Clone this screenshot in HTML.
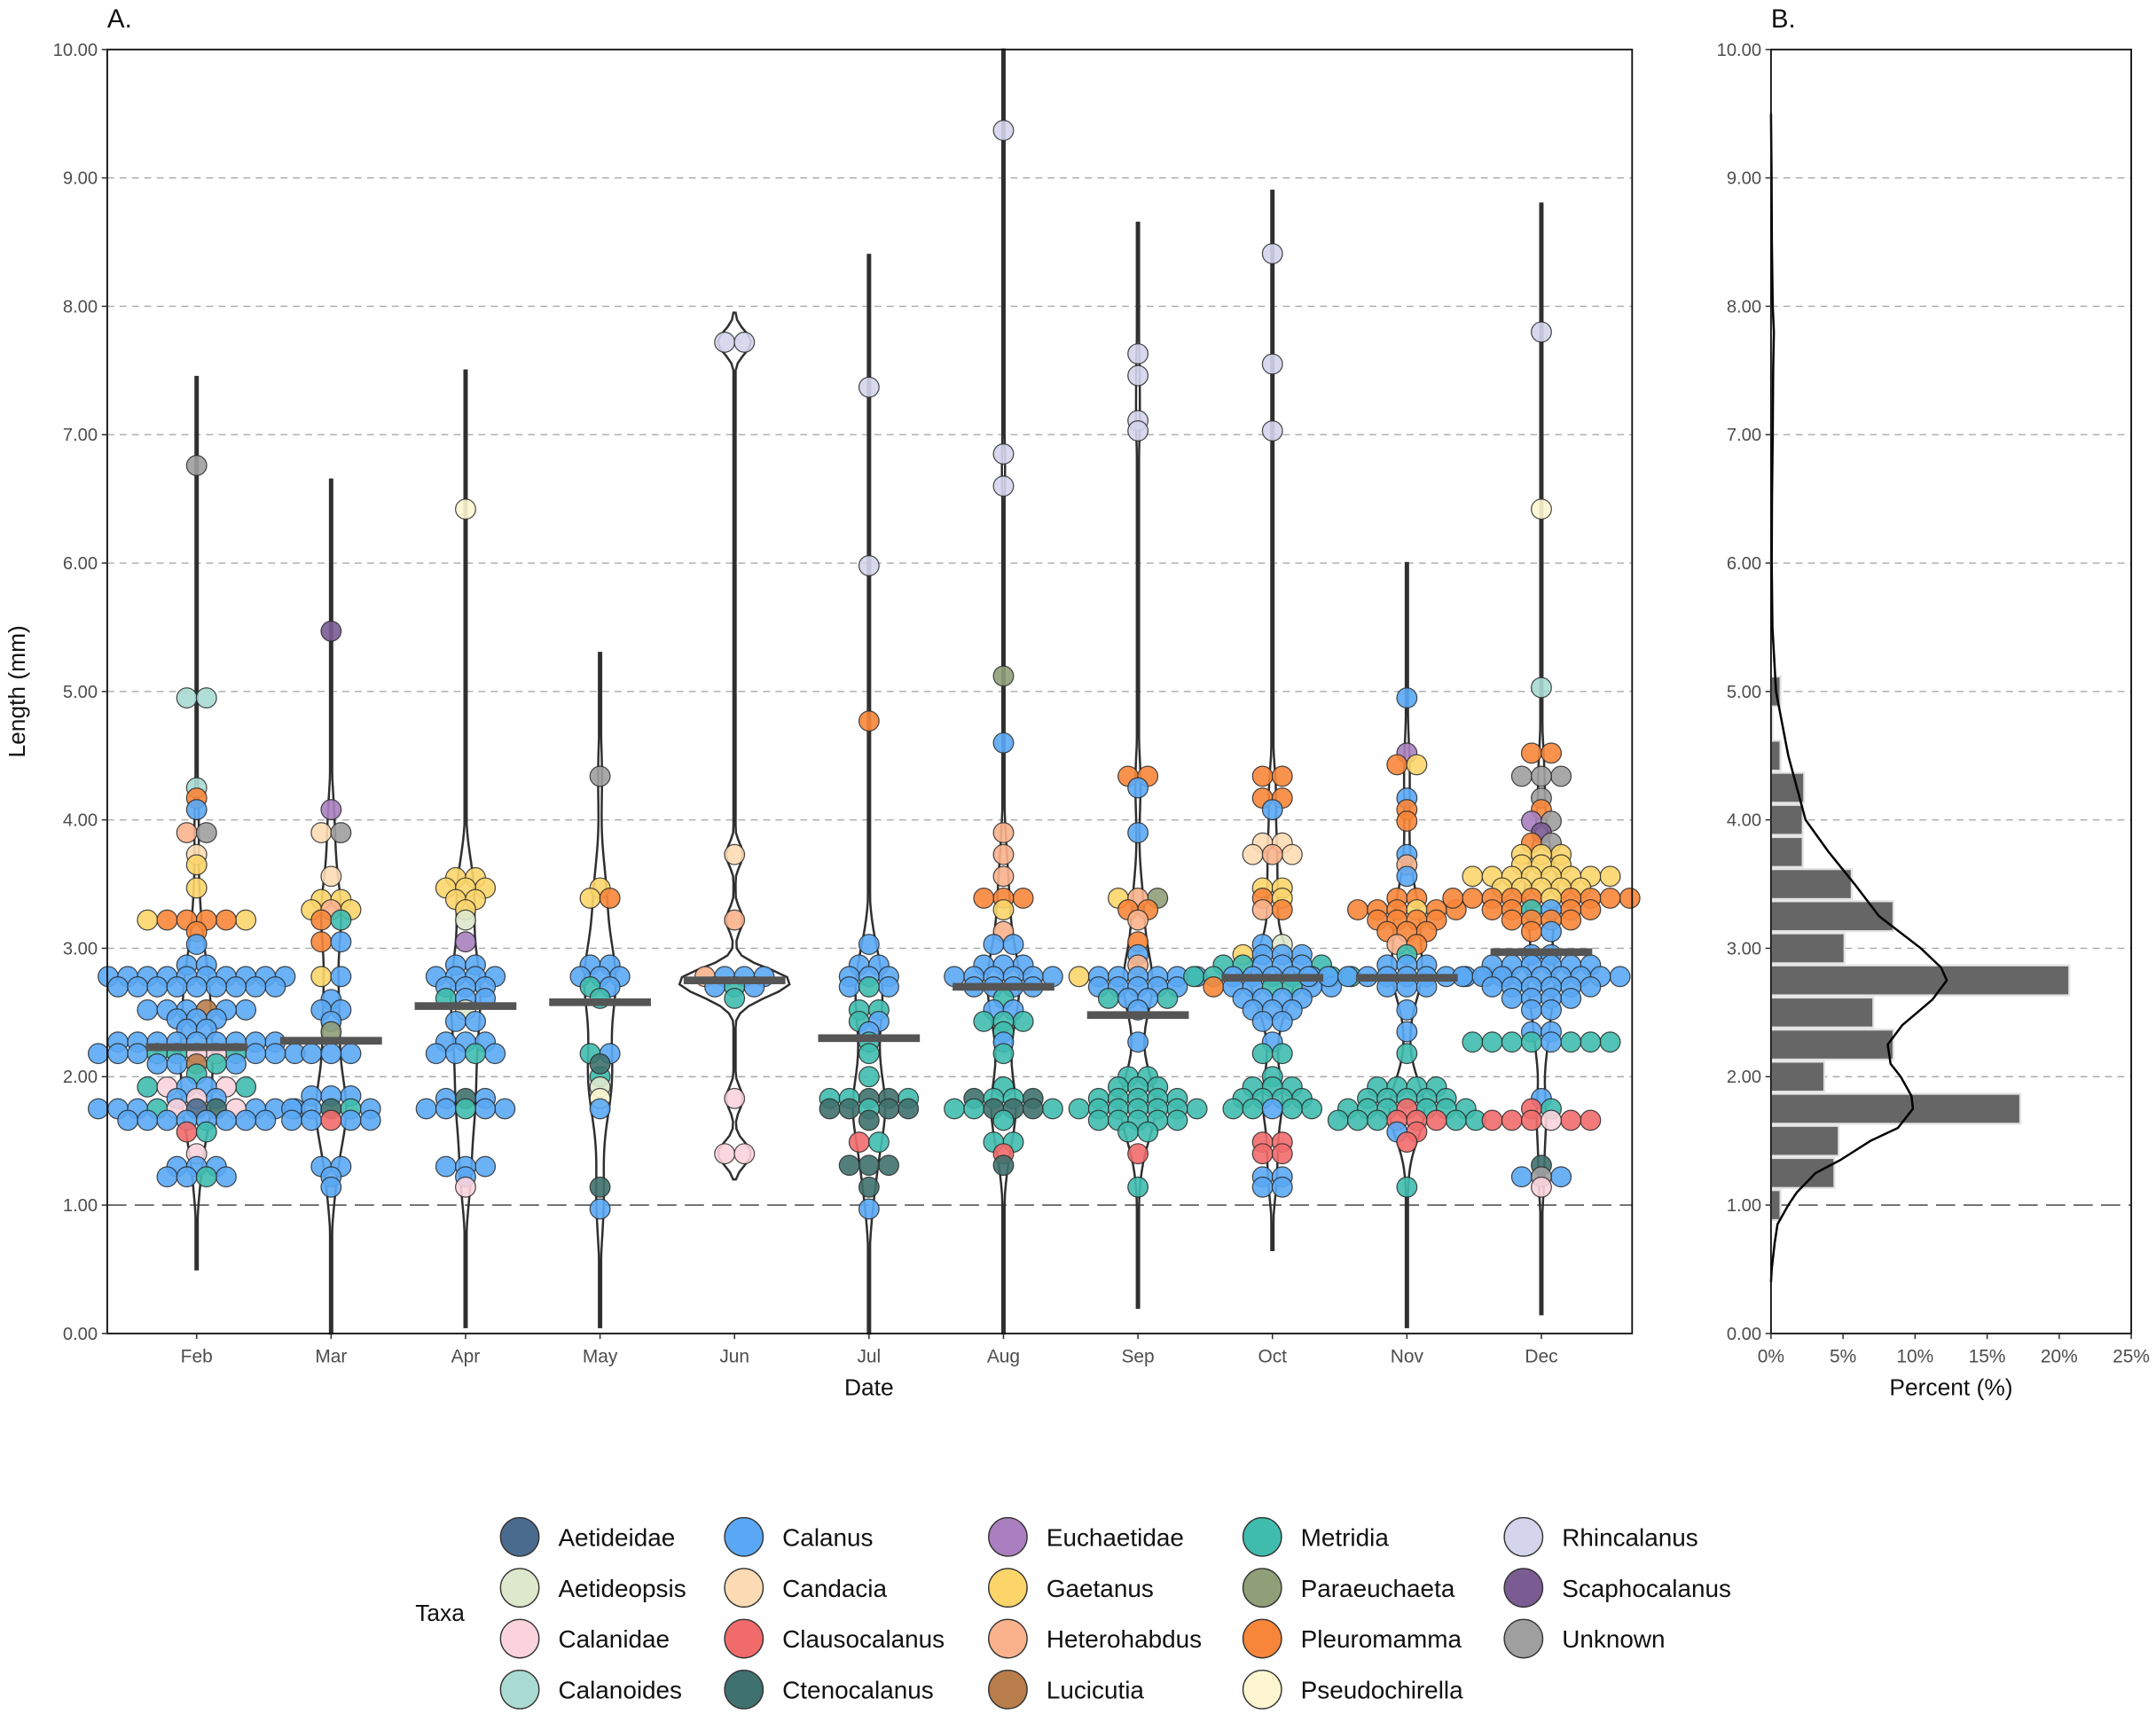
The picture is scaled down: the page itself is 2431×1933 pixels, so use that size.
<!DOCTYPE html>
<html><head><meta charset="utf-8">
<style>
html,body{margin:0;padding:0;background:#fff;}
svg{display:block;}
text{font-family:"Liberation Sans",Arial,sans-serif;}
</style></head>
<body>
<svg id="chart" xmlns="http://www.w3.org/2000/svg" width="2431" height="1933" viewBox="0 0 1568 1246.8">
  <rect x="0" y="0" width="1568" height="1246.8" fill="#fff"/>
  <g id="gridA"></g>
  <g id="gridB"></g>
  <g id="violins"></g>
  <g id="points"></g>
  <g id="medians"></g>
  <g id="bars"></g>
  <g id="curve"></g>
  <g id="axes"></g>
  <g id="legend"></g>
</svg>
<script>
// ---------- data ----------
const months = ['Feb','Mar','Apr','May','Jun','Jul','Aug','Sep','Oct','Nov','Dec'];
const yTicks = [0,1,2,3,4,5,6,7,8,9,10];
const pctTicks = [0,5,10,15,20,25];
const taxa = ['Aetideidae','Aetideopsis','Calanidae','Calanoides','Calanus','Candacia','Clausocalanus','Ctenocalanus','Euchaetidae','Gaetanus','Heterohabdus','Lucicutia','Metridia','Paraeuchaeta','Pleuromamma','Pseudochirella','Rhincalanus','Scaphocalanus','Unknown'];
const taxaColors = ['#4a6b8e','#dde8cc','#fbd3dc','#a9dbd3','#5aa8f5','#fddcb5','#f26b6b','#3f716e','#a97fbf','#fcd56a','#f9b28c','#b87d4b','#3fbcae','#8f9f78','#f8863a','#fdf6d0','#d4d4ec','#7a5c92','#9f9f9f'];
// [length, taxon, count]
const febPts = [[6.76,'Unknown',1],[4.95,'Calanoides',2],[4.25,'Calanoides',1],[4.17,'Pleuromamma',1],[4.08,'Calanus',1],[3.9,'Heterohabdus',1],[3.9,'Unknown',1],[3.73,'Candacia',1],[3.65,'Gaetanus',1],[3.47,'Gaetanus',1],[3.22,'Gaetanus',2],[3.22,'Pleuromamma',4],[3.13,'Pleuromamma',1],[3.03,'Calanus',1],[2.87,'Calanus',2],[2.78,'Calanus',10],[2.70,'Calanus',9],[2.52,'Calanus',5],[2.52,'Lucicutia',1],[2.45,'Calanus',3],[2.37,'Calanus',2],[2.27,'Calanus',9],[2.18,'Calanus',6],[2.18,'Metridia',3],[2.18,'Calanidae',2],[2.10,'Calanus',3],[2.10,'Metridia',1],[2.10,'Lucicutia',1],[2.02,'Metridia',1],[1.92,'Metridia',2],[1.92,'Calanidae',2],[1.92,'Calanus',2],[1.83,'Calanus',2],[1.83,'Calanidae',1],[1.75,'Calanus',6],[1.75,'Metridia',1],[1.75,'Calanidae',2],[1.75,'Ctenocalanus',1],[1.75,'Aetideidae',1],[1.66,'Calanus',8],[1.57,'Clausocalanus',1],[1.57,'Metridia',1],[1.40,'Calanidae',1],[1.30,'Calanus',3],[1.22,'Calanus',3],[1.22,'Metridia',1]];
const marPts = [[5.47,'Scaphocalanus',1],[4.08,'Euchaetidae',1],[3.9,'Candacia',1],[3.9,'Unknown',1],[3.56,'Candacia',1],[3.38,'Gaetanus',2],[3.30,'Gaetanus',2],[3.30,'Heterohabdus',1],[3.22,'Pleuromamma',1],[3.22,'Metridia',1],[3.05,'Pleuromamma',1],[3.05,'Calanus',1],[2.78,'Gaetanus',1],[2.78,'Calanus',1],[2.60,'Calanus',1],[2.52,'Calanus',2],[2.43,'Calanus',1],[2.35,'Paraeuchaeta',1],[2.18,'Calanus',3],[1.85,'Calanus',3],[1.75,'Calanus',3],[1.75,'Metridia',1],[1.75,'Ctenocalanus',1],[1.66,'Calanus',4],[1.66,'Clausocalanus',1],[1.30,'Calanus',2],[1.22,'Calanus',1],[1.14,'Calanus',1]];
const aprPts = [[6.42,'Pseudochirella',1],[3.55,'Gaetanus',2],[3.47,'Gaetanus',3],[3.38,'Gaetanus',2],[3.30,'Gaetanus',1],[3.22,'Aetideopsis',1],[3.05,'Euchaetidae',1],[2.87,'Calanus',2],[2.78,'Calanus',4],[2.70,'Calanus',3],[2.61,'Metridia',1],[2.61,'Calanus',2],[2.52,'Aetideopsis',1],[2.43,'Calanus',2],[2.27,'Calanus',3],[2.18,'Calanus',3],[2.18,'Metridia',1],[1.83,'Calanus',2],[1.83,'Ctenocalanus',1],[1.75,'Calanus',4],[1.75,'Metridia',1],[1.30,'Calanus',3],[1.22,'Calanus',1],[1.14,'Calanidae',1]];
const mayPts = [[4.34,'Unknown',1],[3.47,'Gaetanus',1],[3.39,'Gaetanus',1],[3.39,'Pleuromamma',1],[2.87,'Calanus',2],[2.78,'Calanus',3],[2.70,'Metridia',1],[2.70,'Calanus',1],[2.61,'Metridia',1],[2.18,'Metridia',1],[2.18,'Calanus',1],[2.10,'Ctenocalanus',1],[2.0,'Metridia',1],[1.92,'Aetideopsis',1],[1.83,'Pseudochirella',1],[1.75,'Calanus',1],[1.14,'Ctenocalanus',1],[0.97,'Calanus',1]];
const junPts = [[7.72,'Rhincalanus',2],[3.73,'Candacia',1],[3.22,'Heterohabdus',1],[2.78,'Heterohabdus',1],[2.78,'Calanus',3],[2.70,'Calanus',2],[2.70,'Metridia',1],[2.61,'Metridia',1],[1.83,'Calanidae',1],[1.40,'Calanidae',2]];
const julPts = [[7.37,'Rhincalanus',1],[5.98,'Rhincalanus',1],[4.77,'Pleuromamma',1],[3.03,'Calanus',1],[2.87,'Calanus',2],[2.78,'Calanus',3],[2.70,'Calanus',2],[2.70,'Metridia',1],[2.52,'Metridia',2],[2.43,'Metridia',1],[2.43,'Calanus',1],[2.35,'Calanus',1],[2.27,'Metridia',1],[2.18,'Metridia',1],[2.0,'Metridia',1],[1.83,'Metridia',3],[1.83,'Ctenocalanus',2],[1.75,'Ctenocalanus',4],[1.75,'Metridia',1],[1.66,'Ctenocalanus',1],[1.49,'Clausocalanus',1],[1.49,'Metridia',1],[1.31,'Ctenocalanus',3],[1.14,'Ctenocalanus',1],[0.97,'Calanus',1]];
const augPts = [[9.37,'Rhincalanus',1],[6.85,'Rhincalanus',1],[6.60,'Rhincalanus',1],[5.12,'Paraeuchaeta',1],[4.60,'Calanus',1],[3.90,'Heterohabdus',1],[3.73,'Heterohabdus',1],[3.56,'Heterohabdus',1],[3.39,'Pleuromamma',3],[3.30,'Gaetanus',1],[3.13,'Heterohabdus',1],[3.03,'Calanus',2],[2.87,'Calanus',3],[2.78,'Calanus',6],[2.70,'Calanus',4],[2.61,'Metridia',1],[2.52,'Calanus',2],[2.43,'Metridia',3],[2.35,'Metridia',1],[2.27,'Calanus',1],[2.18,'Metridia',1],[1.92,'Metridia',1],[1.83,'Ctenocalanus',2],[1.83,'Metridia',2],[1.75,'Metridia',3],[1.75,'Ctenocalanus',3],[1.66,'Metridia',1],[1.49,'Metridia',2],[1.40,'Clausocalanus',1],[1.31,'Ctenocalanus',1]];
const sepPts = [[7.63,'Rhincalanus',1],[7.46,'Rhincalanus',1],[7.11,'Rhincalanus',1],[7.03,'Rhincalanus',1],[4.34,'Pleuromamma',2],[4.25,'Calanus',1],[3.90,'Calanus',1],[3.39,'Gaetanus',1],[3.39,'Paraeuchaeta',1],[3.39,'Heterohabdus',1],[3.30,'Pleuromamma',2],[3.22,'Heterohabdus',1],[3.05,'Pleuromamma',1],[2.95,'Calanus',1],[2.87,'Heterohabdus',1],[2.78,'Gaetanus',1],[2.78,'Calanus',6],[2.70,'Calanus',5],[2.61,'Metridia',2],[2.61,'Calanus',2],[2.52,'Calanus',1],[2.27,'Calanus',1],[2.0,'Metridia',2],[1.92,'Metridia',3],[1.83,'Metridia',5],[1.75,'Metridia',7],[1.66,'Metridia',5],[1.57,'Metridia',2],[1.40,'Clausocalanus',1],[1.14,'Metridia',1]];
const octPts = [[8.41,'Rhincalanus',1],[7.55,'Rhincalanus',1],[7.03,'Rhincalanus',1],[4.34,'Pleuromamma',2],[4.17,'Pleuromamma',2],[4.08,'Calanus',1],[3.82,'Candacia',2],[3.73,'Candacia',2],[3.73,'Heterohabdus',1],[3.47,'Gaetanus',2],[3.39,'Pleuromamma',1],[3.39,'Gaetanus',1],[3.30,'Heterohabdus',1],[3.30,'Pleuromamma',1],[3.03,'Calanus',1],[3.03,'Aetideopsis',1],[2.95,'Gaetanus',1],[2.95,'Calanus',3],[2.87,'Metridia',3],[2.87,'Calanus',3],[2.78,'Metridia',4],[2.78,'Calanus',5],[2.70,'Pleuromamma',1],[2.70,'Calanus',4],[2.70,'Metridia',2],[2.61,'Calanus',4],[2.52,'Calanus',3],[2.43,'Calanus',2],[2.27,'Calanus',1],[2.18,'Metridia',2],[2.0,'Metridia',1],[1.92,'Metridia',3],[1.83,'Metridia',4],[1.75,'Metridia',4],[1.75,'Calanus',1],[1.49,'Clausocalanus',2],[1.40,'Clausocalanus',2],[1.22,'Calanus',2],[1.14,'Calanus',2]];
const novPts = [[4.95,'Calanus',1],[4.52,'Euchaetidae',1],[4.43,'Pleuromamma',1],[4.43,'Gaetanus',1],[4.17,'Calanus',1],[4.08,'Pleuromamma',1],[3.99,'Pleuromamma',1],[3.73,'Calanus',1],[3.65,'Heterohabdus',1],[3.56,'Calanus',1],[3.39,'Pleuromamma',2],[3.30,'Pleuromamma',5],[3.30,'Gaetanus',1],[3.22,'Pleuromamma',4],[3.13,'Pleuromamma',3],[3.03,'Heterohabdus',1],[3.03,'Pleuromamma',1],[2.95,'Metridia',1],[2.87,'Calanus',3],[2.78,'Calanus',11],[2.70,'Calanus',3],[2.52,'Calanus',1],[2.35,'Calanus',1],[2.18,'Metridia',1],[1.92,'Metridia',4],[1.83,'Metridia',5],[1.75,'Metridia',6],[1.75,'Clausocalanus',1],[1.66,'Metridia',5],[1.66,'Clausocalanus',3],[1.57,'Calanus',1],[1.57,'Clausocalanus',1],[1.49,'Clausocalanus',1],[1.14,'Metridia',1]];
const decPts = [[7.80,'Rhincalanus',1],[6.42,'Pseudochirella',1],[5.03,'Calanoides',1],[4.52,'Pleuromamma',2],[4.34,'Unknown',3],[4.17,'Unknown',1],[4.08,'Pleuromamma',1],[3.99,'Euchaetidae',1],[3.99,'Unknown',1],[3.90,'Scaphocalanus',1],[3.82,'Pleuromamma',1],[3.82,'Unknown',1],[3.73,'Gaetanus',3],[3.65,'Gaetanus',3],[3.56,'Gaetanus',8],[3.47,'Gaetanus',5],[3.39,'Pleuromamma',9],[3.39,'Gaetanus',1],[3.30,'Pleuromamma',4],[3.30,'Metridia',1],[3.30,'Calanus',1],[3.22,'Pleuromamma',4],[3.13,'Pleuromamma',1],[3.13,'Calanus',1],[2.95,'Calanus',2],[2.87,'Calanus',6],[2.78,'Calanus',9],[2.70,'Calanus',6],[2.61,'Calanus',4],[2.52,'Calanus',2],[2.35,'Calanus',2],[2.27,'Metridia',7],[2.27,'Calanus',1],[1.83,'Calanus',1],[1.75,'Clausocalanus',1],[1.75,'Metridia',1],[1.66,'Clausocalanus',5],[1.66,'Calanidae',1],[1.31,'Ctenocalanus',1],[1.22,'Calanus',2],[1.22,'Unknown',1],[1.14,'Calanidae',1]];
const monthPoints = [febPts,marPts,aprPts,mayPts,junPts,julPts,augPts,sepPts,octPts,novPts,decPts];
const medians = [2.23,2.28,2.55,2.58,2.75,2.30,2.70,2.48,2.77,2.77,2.97];
const violinMin = [0.5,0.0,0.05,0.05,1.2,0.0,0.0,0.2,0.65,0.05,0.15];
const violinMax = [7.45,6.65,7.5,5.3,7.95,8.4,10.0,8.65,8.9,6.0,8.8];
const violinBw = [0.23,0.25,0.25,0.28,0.09,0.25,0.23,0.23,0.18,0.2,0.2];
const binCenters = [1.0,1.25,1.5,1.75,2.0,2.25,2.5,2.75,3.0,3.25,3.5,3.75,4.0,4.25,4.5,4.75,5.0];
const binPercents = [0.66,4.4,4.7,17.3,3.7,8.5,7.1,20.7,5.1,8.5,5.6,2.2,2.2,2.3,0.66,0.1,0.66];
const densityY = [0.4,0.5,0.7,0.85,1.0,1.1,1.25,1.35,1.5,1.6,1.75,1.85,2.0,2.1,2.25,2.4,2.6,2.75,2.85,3.0,3.25,3.5,3.75,4.0,4.25,4.5,5.0,5.5,6.0,6.5,7.0,7.5,7.8,8.0,8.5,9.0,9.5];
const densityPct = [0,0.05,0.25,0.45,1.2,1.8,3.1,4.8,6.9,8.8,9.85,9.75,9.0,8.3,8.1,9.1,11.2,12.2,11.8,10.4,7.5,5.8,4.0,2.4,1.8,1.2,0.35,0.1,0.05,0.07,0.12,0.15,0.2,0.12,0.06,0.04,0.0];

// ---------- scales ----------
const NS='http://www.w3.org/2000/svg';
const A = {left:78,right:1187,top:36,bottom:970};
const B = {left:1288,right:1550,top:36,bottom:970};
const yScale = v => A.bottom - v*(A.bottom-A.top)/10;
const xMonth = i => 143 + i*97.8;
const xPct = p => B.left + p*(B.right-B.left)/25;
function mk(tag, attrs, parent){const e=document.createElementNS(NS,tag);for(const k in attrs)e.setAttribute(k,attrs[k]);parent.appendChild(e);return e;}
const colorOf = t => taxaColors[taxa.indexOf(t)];

// ---------- gridlines ----------
const gA=document.getElementById('gridA'), gB=document.getElementById('gridB');
yTicks.forEach(v=>{
  if(v===0||v===10) return;
  [[gA,A],[gB,B]].forEach(([g,P])=>{
    const l=mk('line',{x1:P.left,x2:P.right,y1:yScale(v),y2:yScale(v),stroke:v===1?'#555':'#aaa','stroke-width':v===1?1.1:0.9,'stroke-dasharray':v===1?'14 6':'5 4'},g);
    
    
  });
});

// ---------- violins ----------
function kde(vals,bw,y){let s=0;for(const v of vals){const z=(y-v)/bw;s+=Math.exp(-0.5*z*z);}return s/(vals.length*bw*Math.sqrt(2*Math.PI));}
const gV=document.getElementById('violins');
const expanded = monthPoints.map(arr=>{const o=[];arr.forEach(([v,t,c])=>{for(let k=0;k<c;k++)o.push({v,t});});return o;});
const dens = expanded.map((pts,i)=>{const vals=pts.map(p=>p.v);const res=[];const n=120;for(let k=0;k<=n;k++){const y=violinMin[i]+(violinMax[i]-violinMin[i])*k/n;res.push([y,kde(vals,violinBw[i],y)]);}return res;});
let maxD=0;dens.forEach(d=>d.forEach(p=>{if(p[1]>maxD)maxD=p[1];}));
dens.forEach((d,i)=>{
  const cx=xMonth(i);
  const w=p=>Math.max(0.8,p[1]/maxD*40);
  let path='M'+d.map(p=>(cx+w(p)).toFixed(2)+','+yScale(p[0]).toFixed(2)).join('L');
  path+='L'+d.slice().reverse().map(p=>(cx-w(p)).toFixed(2)+','+yScale(p[0]).toFixed(2)).join('L')+'Z';
  const e=mk('path',{d:path,fill:'none',stroke:'#2f2f2f','stroke-width':1.6},gV);
  
  
});

// ---------- beeswarm points (centered rows per value) ----------
const gP=document.getElementById('points');
const R=7.3, SP=14.3;
expanded.forEach((pts,i)=>{
  const cx=xMonth(i);
  const rows={};
  pts.forEach(p=>{(rows[p.v]=rows[p.v]||[]).push(p);});
  Object.keys(rows).forEach(key=>{
    const row=rows[key];
    const n=row.length;
    row.forEach((p,k)=>{
      const idx = k%2===0 ? k/2 : n-1-(k-1)/2;
      const x = cx + (idx-(n-1)/2)*SP;
      const c=mk('circle',{cx:x.toFixed(2),cy:yScale(p.v).toFixed(2),r:R,fill:colorOf(p.t),'fill-opacity':0.9,stroke:'#2a2a2a','stroke-width':0.8,'stroke-opacity':0.85},gP);
      
      
    });
  });
});

// ---------- medians ----------
const gM=document.getElementById('medians');
medians.forEach((m,i)=>{
  const r=mk('rect',{x:xMonth(i)-37,y:yScale(m)-2.8,width:74,height:5.6,fill:'#555'},gM);
  
  
});

// ---------- histogram ----------
const gH=document.getElementById('bars');
const binW=0.25;
binCenters.forEach((c,i)=>{
  const yt=yScale(c+binW/2), yb=yScale(c-binW/2);
  const r=mk('rect',{x:xPct(0),y:yt+0.8,width:Math.max(0,xPct(binPercents[i])-xPct(0)),height:yb-yt-1.6,fill:'#666',stroke:'#e2e2e2','stroke-width':1.4},gH);
  
  
});
const gC=document.getElementById('curve');
const cp=mk('path',{d:'M'+densityY.map((y,i)=>xPct(densityPct[i]).toFixed(2)+','+yScale(y).toFixed(2)).join('L'),fill:'none',stroke:'#000','stroke-width':1.6,'stroke-linejoin':'round'},gC);



// ---------- axes ----------
const gAx=document.getElementById('axes');
function txt(s,attrs,name){const t=mk('text',attrs,gAx);t.textContent=s;return t;}
[[A,'panel-a-frame'],[B,'panel-b-frame']].forEach(([P,n])=>{
  const r=mk('rect',{x:P.left,y:P.top,width:P.right-P.left,height:P.bottom-P.top,fill:'none',stroke:'#111','stroke-width':1.2},gAx);
  
});
yTicks.forEach(v=>{
  [[A,'a'],[B,'b']].forEach(([P,n])=>{
    mk('line',{x1:P.left-4,x2:P.left,y1:yScale(v),y2:yScale(v),stroke:'#333','stroke-width':1},gAx);
    txt(v.toFixed(2),{x:P.left-7,y:yScale(v)+4.5,'text-anchor':'end','font-size':13,fill:'#4d4d4d'},'y-tick-'+n+'-'+v);
  });
});
months.forEach((m,i)=>{
  mk('line',{x1:xMonth(i),x2:xMonth(i),y1:A.bottom,y2:A.bottom+4,stroke:'#333','stroke-width':1},gAx);
  txt(m,{x:xMonth(i),y:991,'text-anchor':'middle','font-size':13.5,fill:'#4d4d4d'},'x-tick-'+m.toLowerCase());
});
pctTicks.forEach(p=>{
  mk('line',{x1:xPct(p),x2:xPct(p),y1:B.bottom,y2:B.bottom+4,stroke:'#333','stroke-width':1},gAx);
  txt(p+'%',{x:xPct(p),y:991,'text-anchor':'middle','font-size':13.5,fill:'#4d4d4d'},'pct-tick-'+p);
});
txt('Date',{x:632,y:1015,'text-anchor':'middle','font-size':17,fill:'#111'},'x-axis-title');
txt('Percent (%)',{x:1419,y:1015,'text-anchor':'middle','font-size':17,fill:'#111'},'x-axis-title-b');
txt('Length (mm)',{x:0,y:0,'text-anchor':'middle','font-size':17,fill:'#111',transform:'translate(18,503) rotate(-90)'},'y-axis-title');
txt('A.',{x:78,y:20,'font-size':19,fill:'#111'},'panel-a-label');
txt('B.',{x:1288,y:20,'font-size':19,fill:'#111'},'panel-b-label');

// ---------- legend ----------
const gL=document.getElementById('legend');
const legCols=[378,541,733,918,1108];
const legRows=[1118,1155,1192,1229];
const lt=mk('text',{x:302,y:1179,'font-size':17,fill:'#111'},gL);lt.textContent='Taxa';

taxa.forEach((t,i)=>{
  const col=Math.floor(i/4), row=i%4;
  const g=mk('g',{},gL);
  
  
  mk('circle',{cx:legCols[col],cy:legRows[row],r:14,fill:taxaColors[i],stroke:'#333','stroke-width':0.9},g);
  const tx=mk('text',{x:legCols[col]+28,y:legRows[row]+6.5,'font-size':18,fill:'#111'},g);
  tx.textContent=t;
});
</script>
</body></html>
